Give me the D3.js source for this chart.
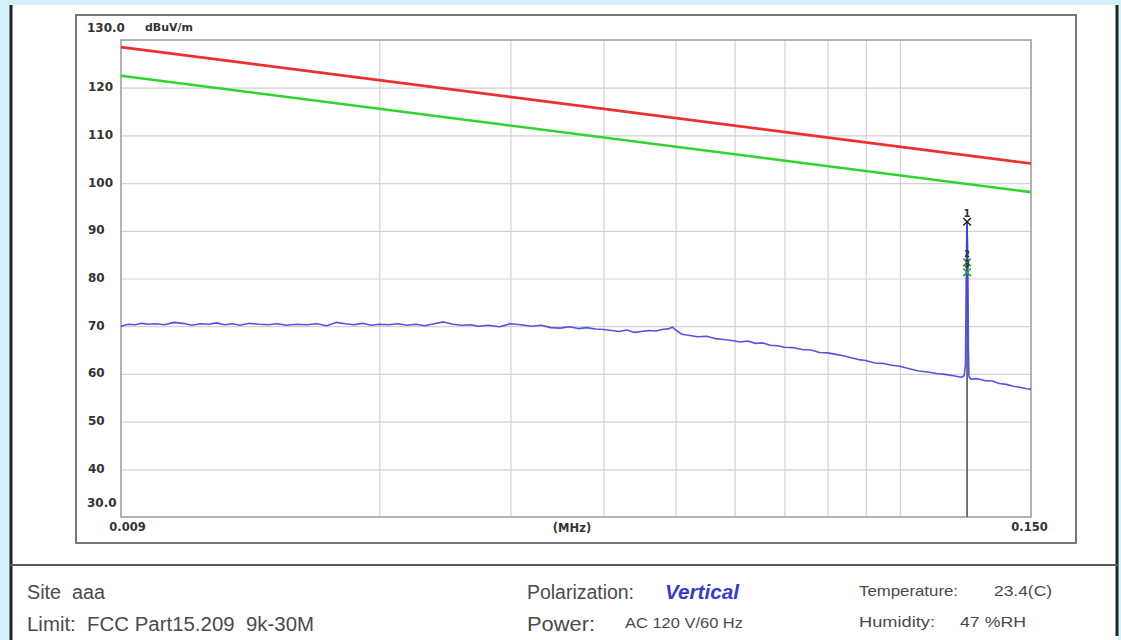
<!DOCTYPE html>
<html lang="en">
<head>
<meta charset="utf-8">
<script src="https://cdn.jsdelivr.net/npm/d3@7"></script>
<style>
  body { margin: 0; background: #fff; }
  svg { display: block; }
  .ax text { font-family: "DejaVu Sans", sans-serif; font-weight: bold; font-size: 12px; fill: #333; }
  .info text { font-family: "Liberation Sans", Arial, sans-serif; fill: #4a4a4a; white-space: pre; }
</style>
</head>
<body>
<svg id="chart" width="1121" height="640"></svg>
<script>
// limit lines (FCC 15.209 at 3m) and the 6 dB margin line
const limitFreq = [0.009, 0.150];
const limitLevel = [128.5, 104.1];
const marginLevel = [122.5, 98.1];

// measured trace, MHz / dBuV/m
const traceFreq = [
  0.0090, 0.0092, 0.0094, 0.0096, 0.0098, 0.0100, 0.0103, 0.0106, 0.0109, 0.0112,
  0.0115, 0.0118, 0.0121, 0.0124, 0.0127, 0.0130, 0.0134, 0.0138, 0.0142, 0.0146,
  0.0150, 0.0155, 0.0160, 0.0165, 0.0170, 0.0175, 0.0180, 0.0185, 0.0190, 0.0195,
  0.0200, 0.0206, 0.0212, 0.0218, 0.0224, 0.0230, 0.0237, 0.0244, 0.0251, 0.0258,
  0.0265, 0.0272, 0.0280, 0.0290, 0.0300, 0.0310, 0.0320, 0.0330, 0.0340, 0.0350,
  0.0360, 0.0370, 0.0380, 0.0390, 0.0400, 0.0410, 0.0420, 0.0430, 0.0440, 0.0450,
  0.0460, 0.0470, 0.0480, 0.0490, 0.0495, 0.0500, 0.0510, 0.0520, 0.0535, 0.0550,
  0.0565, 0.0580, 0.0595, 0.0610, 0.0625, 0.0640, 0.0655, 0.0670, 0.0685, 0.0700,
  0.0720, 0.0740, 0.0760, 0.0780, 0.0800, 0.0820, 0.0840, 0.0860, 0.0880, 0.0900,
  0.0925, 0.0950, 0.0975, 0.1000, 0.1030, 0.1060, 0.1090, 0.1120, 0.1150, 0.1180,
  0.1210, 0.1220, 0.1225, 0.1227, 0.1229, 0.1231, 0.1232, 0.1234, 0.1236, 0.1238,
  0.1245, 0.1270, 0.1300, 0.1330, 0.1360, 0.1390, 0.1420, 0.1450, 0.1480, 0.1500
];
const traceLevel = [
  70.0, 70.4, 70.3, 70.6, 70.4, 70.5, 70.3, 70.8, 70.6, 70.2,
  70.5, 70.4, 70.7, 70.3, 70.5, 70.2, 70.6, 70.4, 70.3, 70.5,
  70.2, 70.4, 70.3, 70.5, 70.1, 70.8, 70.5, 70.3, 70.6, 70.2,
  70.4, 70.3, 70.5, 70.2, 70.4, 70.1, 70.5, 70.9, 70.4, 70.2,
  70.3, 70.0, 70.2, 69.9, 70.5, 70.3, 70.0, 70.2, 69.7, 69.6,
  69.9, 69.5, 69.7, 69.4, 69.3, 69.1, 68.9, 69.2, 68.7, 68.9,
  69.1, 69.0, 69.3, 69.5, 69.8, 69.2, 68.3, 68.1, 67.8, 67.9,
  67.4, 67.2, 67.0, 66.7, 66.9, 66.4, 66.5, 66.0, 65.9, 65.6,
  65.5, 65.1, 65.0, 64.5, 64.4, 64.1, 63.8, 63.4, 63.0, 62.8,
  62.3, 62.2, 61.8, 61.6, 61.1, 60.6, 60.4, 60.1, 59.9, 59.6,
  59.3, 59.6, 62.0, 76.0, 86.5, 91.9, 89.0, 84.5, 66.0, 59.5,
  58.9, 59.0, 58.6, 58.5, 58.0, 57.8, 57.4, 57.2, 56.9, 56.8
];

// markers
const markerNames = ["1", "2", "3"];
const markerFreq = [0.1231, 0.1231, 0.1231];
const markerLevel = [91.9, 83.4, 81.3];

// axes
const yTicks = [40, 50, 60, 70, 80, 90, 100, 110, 120];
const gridFreq = [0.02, 0.03, 0.04, 0.05, 0.06, 0.07, 0.08, 0.09, 0.1];
const xEndTicks = [0.009, 0.150];
const xEndLabels = ["0.009", "0.150"];
const yEndLabels = ["30.0", "130.0"];

const svg = d3.select("#chart");
const W = 1121, H = 640;
const pLeft = 121, pRight = 1031, pTop = 40, pBottom = 517;

const x = d3.scaleLog().domain([0.009, 0.150]).range([pLeft, pRight]);
const y = d3.scaleLinear().domain([30, 130]).range([pBottom, pTop]);

// page background, borders
svg.append("rect").attr("width", W).attr("height", H).attr("fill", "#d3f0fb");
svg.append("rect").attr("x", 10).attr("y", 5).attr("width", 1108).attr("height", H - 5).attr("fill", "#fff");
svg.append("line").attr("x1", 11).attr("x2", 11).attr("y1", 5).attr("y2", H)
  .attr("stroke", "#222").attr("stroke-width", 3);
svg.append("line").attr("x1", 1117).attr("x2", 1117).attr("y1", 5).attr("y2", 636)
  .attr("stroke", "#222").attr("stroke-width", 3);
svg.append("line").attr("x1", 10).attr("x2", 1118).attr("y1", 565).attr("y2", 565)
  .attr("stroke", "#555").attr("stroke-width", 2);

// outer frame of the chart box
svg.append("rect").attr("x", 76).attr("y", 15).attr("width", 1000).attr("height", 528)
  .attr("fill", "none").attr("stroke", "#777").attr("stroke-width", 2);

// grid
svg.append("g").attr("transform", `translate(0,${pBottom})`)
  .call(d3.axisBottom(x).tickValues(gridFreq).tickSize(-(pBottom - pTop)).tickFormat(""))
  .call(g => g.select(".domain").remove())
  .call(g => g.selectAll("line").attr("stroke", "#d2d2d2").attr("stroke-width", 1.2));

const yAxis = svg.append("g").attr("class", "ax").attr("transform", `translate(${pLeft},0)`)
  .call(d3.axisLeft(y).tickValues(yTicks).tickSize(-(pRight - pLeft)).tickPadding(0))
  .call(g => g.select(".domain").remove())
  .call(g => g.selectAll("line").attr("stroke", "#d2d2d2").attr("stroke-width", 1.2));
yAxis.selectAll("text").attr("x", 88 - pLeft).attr("dy", "0.25em").attr("text-anchor", "start");

// end labels of the y range sit just above the bound
svg.append("g").attr("class", "ax").selectAll("text")
  .data([30, 130]).join("text")
  .attr("x", 87).attr("y", (d, i) => y(d) - (i === 0 ? 10 : 8))
  .text((d, i) => yEndLabels[i]);
svg.append("g").attr("class", "ax")
  .append("text").attr("x", 145).attr("y", y(130) - 9).style("font-size", "11px").text("dBuV/m");

// x end labels and unit
const xAxis = svg.append("g").attr("class", "ax").attr("transform", `translate(0,${pBottom})`)
  .call(d3.axisBottom(x).tickValues(xEndTicks).tickSize(0).tickPadding(6)
    .tickFormat((d, i) => xEndLabels[i]))
  .call(g => g.select(".domain").remove());
xAxis.selectAll("text").attr("dx", (d, i) => i === 0 ? 6 : -2).style("font-size", "11.5px");
svg.append("g").attr("class", "ax")
  .append("text").attr("x", (pLeft + pRight) / 2 - 4).attr("y", pBottom + 15)
  .attr("text-anchor", "middle").style("font-size", "11.5px").text("(MHz)");

// plot frame
svg.append("rect").attr("x", pLeft).attr("y", pTop).attr("width", pRight - pLeft).attr("height", pBottom - pTop)
  .attr("fill", "none").attr("stroke", "#999").attr("stroke-width", 1.5);

const line = d3.line().x(d => x(d[0])).y(d => y(d[1]));

// marker line
svg.append("line")
  .attr("x1", x(markerFreq[0])).attr("x2", x(markerFreq[0]))
  .attr("y1", y(markerLevel[0])).attr("y2", pBottom)
  .attr("stroke", "#555").attr("stroke-width", 1.6);

// limit lines
svg.append("path").datum(limitFreq.map((f, i) => [f, limitLevel[i]]))
  .attr("d", line).attr("fill", "none").attr("stroke", "#ec2f2f").attr("stroke-width", 2.6);
svg.append("path").datum(limitFreq.map((f, i) => [f, marginLevel[i]]))
  .attr("d", line).attr("fill", "none").attr("stroke", "#2fd52f").attr("stroke-width", 2.6);

// trace
svg.append("path").datum(traceFreq.map((f, i) => [f, traceLevel[i]]))
  .attr("d", line).attr("fill", "none").attr("stroke", "#3c3cde").attr("stroke-width", 1.6)
  .attr("stroke-linejoin", "round").attr("opacity", 0.88);

// markers
const mk = svg.append("g");
const xSym = d3.symbol().type(d3.symbolX).size(40);
markerNames.forEach((name, i) => {
  const px = x(markerFreq[i]), py = y(markerLevel[i]);
  mk.append("path").attr("d", xSym).attr("transform", `translate(${px},${py})`)
    .attr("fill", "none").attr("stroke", i === 0 ? "#222" : "#2a9a2a").attr("stroke-width", 1.5);
  mk.append("text").attr("x", px).attr("y", py - 5).attr("text-anchor", "middle")
    .style("font-family", "DejaVu Sans, sans-serif").style("font-weight", "bold")
    .style("font-size", i === 0 ? "10px" : "8px").attr("fill", "#333").text(name);
});

// info panel below the chart
const info = svg.append("g").attr("class", "info");
const put = (tx, ty, size, len, s) => info.append("text")
  .attr("x", tx).attr("y", ty).attr("xml:space", "preserve")
  .attr("textLength", len).attr("lengthAdjust", "spacingAndGlyphs")
  .style("font-size", size + "px").text(s);
put(27, 599, 20, 78, "Site  aaa");
put(27, 631, 20, 287, "Limit:  FCC Part15.209  9k-30M");
put(527, 599, 20, 107, "Polarization:");
put(527, 631, 20, 68, "Power:");
put(665, 599, 20, 74, "Vertical").style("font-weight", "bold").style("font-style", "italic").style("fill", "#3a3ac8");
put(625, 628, 14.5, 118, "AC 120 V/60 Hz");
put(859, 596, 14.5, 99, "Temperature:");
put(994, 596, 15.5, 58, "23.4(C)");
put(859, 627, 14.5, 76, "Humidity:");
put(960, 627, 15, 66, "47 %RH");
</script>
</body>
</html>
